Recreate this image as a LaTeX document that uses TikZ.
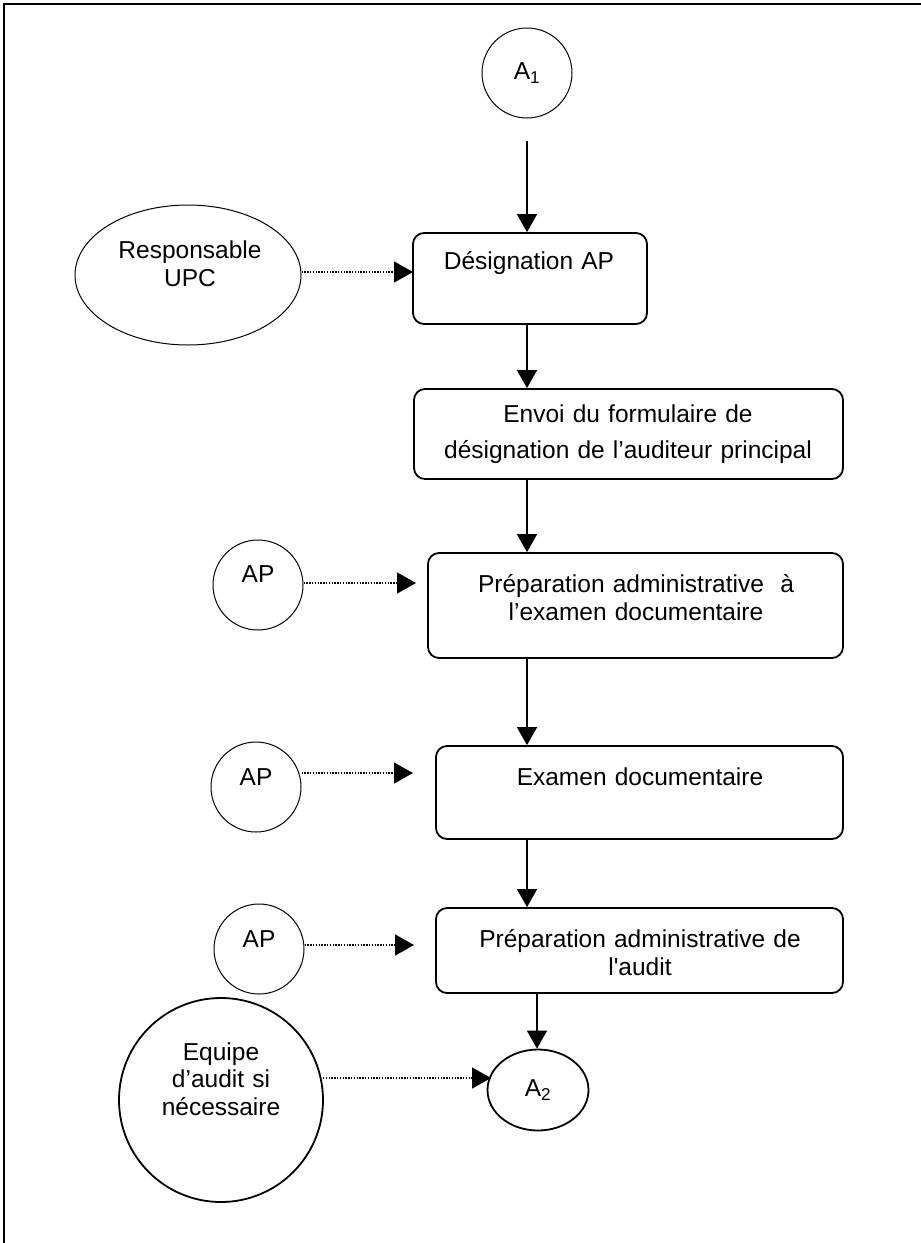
\documentclass[tikz,border=0pt]{standalone}
\usepackage{fontspec}
\setmainfont{Liberation Sans}
\usetikzlibrary{arrows.meta,shapes.geometric}
\begin{document}
\begin{tikzpicture}[x=1pt,y=-1pt,
  txt/.style={font=\fontsize{24.5}{28}\selectfont, inner sep=0pt},
  lines/.style={txt, text width=440pt, align=center, anchor=base},
  stepbox/.style={draw, rectangle, line width=1.8pt, rounded corners=11pt, inner sep=0pt},
  actor/.style={draw, circle, line width=1pt, inner sep=0pt, txt},
  bigactor/.style={actor, line width=1.8pt},
  oval/.style={draw, ellipse, inner sep=0pt, txt},
  flow/.style={line width=1.8pt, -{Triangle[length=18pt,width=20pt]}},
  feed/.style={line width=1.4pt, dash pattern=on 1.4pt off 1.4pt, -{Triangle[length=19pt,width=21pt]}},
]
\useasboundingbox (0,0) rectangle (921,1243);
% open frame: top and left edges
\draw[line width=1.6pt] (4,1243) -- (4,4) -- (921,4);

% main column x positions
\coordinate (spine) at (527,0);
\coordinate (lastspine) at (537,0);

% connectors in and out
\node[actor, minimum size=90pt] (a1) at (527,73) {A\textsubscript{1}};
\coordinate (a1out) at (527,141);

% process boxes
\node[stepbox, minimum width=234pt, minimum height=91pt] (desig) at (530,278.5) {};
\node[lines] (desigtxt) at (529,269) {Désignation AP};

\node[stepbox, minimum width=429pt, minimum height=90pt] (envoi) at (628.5,434) {};
\node[lines, font=\fontsize{24.5}{36}\selectfont] (envoitxt) at (628,422)
  {Envoi du formulaire de\\désignation de l’auditeur principal};

\node[stepbox, minimum width=415pt, minimum height=105pt] (prepexam) at (635.5,605.5) {};
\node[lines, font=\fontsize{24.5}{28}\selectfont] (prepexamtxt) at (636,592)
  {Préparation administrative \ à\\l’examen documentaire};

\node[stepbox, minimum width=407pt, minimum height=93pt] (examen) at (639.5,792.5) {};
\node[lines] (examentxt) at (640,785) {Examen documentaire};

\node[stepbox, minimum width=407pt, minimum height=85pt] (prepaudit) at (639.5,950.5) {};
\node[lines] (prepaudittxt) at (640,947)
  {Préparation administrative de\\l\textquotesingle audit};

\node[oval, line width=1.8pt, minimum width=101pt, minimum height=81pt] (a2) at (538,1090) {A\textsubscript{2}};

% actors
\node[oval, line width=1pt, minimum width=226pt, minimum height=140pt] (resp) at (188,275) {};
\node[lines] (resptxt) at (190,258) {Responsable\\UPC};

\node[actor, minimum size=90pt] (ap1) at (258,585) {};
\node[lines] (ap1txt) at (258,582) {AP};
\node[actor, minimum size=90pt] (ap2) at (256,787) {};
\node[lines] (ap2txt) at (256,785) {AP};
\node[actor, minimum size=90pt] (ap3) at (259,949) {};
\node[lines] (ap3txt) at (259,947) {AP};

\node[bigactor, minimum size=204pt] (equipe) at (221,1100) {};
\node[lines, font=\fontsize{24.5}{27.5}\selectfont] (equipetxt) at (221,1060)
  {Equipe\\d’audit si\\nécessaire};

% dotted arrow tips
\coordinate (t0) at (413,272);
\coordinate (t1) at (416,583);
\coordinate (t2) at (413,773);
\coordinate (t3) at (414,945);
\coordinate (t4) at (491,1078);

% main flow
\draw[flow] (a1out) -- (a1out |- desig.north);
\draw[flow] (desig.south -| spine) -- (envoi.north -| spine);
\draw[flow] (envoi.south -| spine) -- (prepexam.north -| spine);
\draw[flow] (prepexam.south -| spine) -- (examen.north -| spine);
\draw[flow] (examen.south -| spine) -- (prepaudit.north -| spine);
\draw[flow] (prepaudit.south -| lastspine) -- (a2.north -| lastspine);

% responsibilities
\draw[feed] (resp.east |- t0) -- (t0);
\draw[feed] (ap1.east |- t1) -- (t1);
\draw[feed] (ap2.east |- t2) -- (t2);
\draw[feed] (ap3.east |- t3) -- (t3);
\draw[feed] (323,1078) -- (t4);
\end{tikzpicture}
\end{document}
